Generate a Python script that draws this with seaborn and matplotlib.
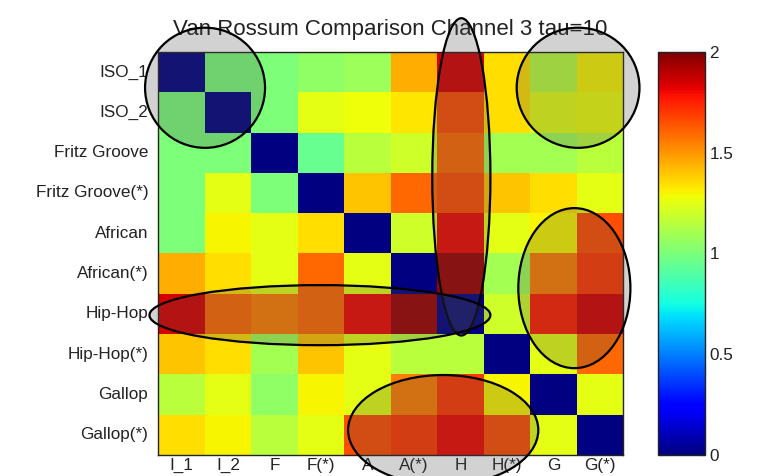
import numpy as np
import pandas as pd
import matplotlib
matplotlib.use("Agg")
import matplotlib.pyplot as plt
from matplotlib.patches import Ellipse
from matplotlib.ticker import FormatStrFormatter
import seaborn as sns

# =============================================
# data
rowLabels = ['ISO_1', 'ISO_2', 'Fritz Groove', 'Fritz Groove(*)', 'African',
             'African(*)', 'Hip-Hop', 'Hip-Hop(*)', 'Gallop', 'Gallop(*)']
colLabels = ['I_1', 'I_2', 'F', 'F(*)', 'A', 'A(*)', 'H', 'H(*)', 'G', 'G(*)']

row_iso1 = [0.00, 1.00, 1.00, 1.05, 1.08, 1.45, 1.85, 1.35, 1.15, 1.30]
row_iso2 = [1.00, 0.00, 1.00, 1.25, 1.28, 1.33, 1.65, 1.35, 1.25, 1.28]
row_fritz = [1.00, 1.00, 0.00, 0.95, 1.15, 1.20, 1.60, 1.10, 1.10, 1.15]
row_fritzS = [1.00, 1.25, 1.00, 0.00, 1.40, 1.60, 1.65, 1.40, 1.35, 1.25]
row_afr = [1.00, 1.30, 1.25, 1.35, 0.00, 1.20, 1.80, 1.25, 1.30, 1.65]
row_afrS = [1.45, 1.35, 1.25, 1.60, 1.25, 0.00, 1.95, 1.10, 1.55, 1.70]
row_hip = [1.85, 1.60, 1.55, 1.60, 1.80, 1.95, 0.00, 1.20, 1.75, 1.85]
row_hipS = [1.40, 1.35, 1.10, 1.40, 1.25, 1.15, 1.15, 0.00, 1.25, 1.60]
row_gal = [1.15, 1.25, 1.05, 1.30, 1.25, 1.55, 1.70, 1.30, 0.00, 1.25]
row_galS = [1.35, 1.30, 1.15, 1.25, 1.65, 1.70, 1.80, 1.65, 1.25, 0.00]

cbarTicks = [0, 0.5, 1, 1.5, 2]
titleText = 'Van Rossum Comparison Channel 3 tau=10'

# =============================================
# plotting parameters
tickFontSize = 12.3
titleFontSize = 16
textColor = '#222222'

sns.set_style("white")
plt.rcParams['font.family'] = ['Liberation Sans', 'DejaVu Sans']

df = pd.DataFrame([row_iso1, row_iso2, row_fritz, row_fritzS, row_afr,
                   row_afrS, row_hip, row_hipS, row_gal, row_galS],
                  index=rowLabels, columns=colLabels)

fig = plt.figure(figsize=(7.6, 4.76), dpi=100)
ax = fig.add_axes([0.208, 0.044, 0.612, 0.847])
cax = fig.add_axes([0.866, 0.044, 0.062, 0.847])

sns.heatmap(df, ax=ax, cbar_ax=cax, cmap='jet', vmin=0, vmax=2,
            cbar_kws={'ticks': cbarTicks})

# matlab-like frame and ticks
for side in ['left', 'right', 'top', 'bottom']:
    ax.spines[side].set_visible(True)
    ax.spines[side].set_color('#222222')
    ax.spines[side].set_linewidth(1.0)
ax.tick_params(direction='in', top=True, right=True, length=4, width=0.8,
               labelsize=tickFontSize, colors=textColor)
ax.tick_params(axis='y', pad=7)
ax.tick_params(axis='x', pad=2)
plt.setp(ax.get_yticklabels(), rotation=0)
plt.setp(ax.get_xticklabels(), rotation=0)
ax.set_title(titleText, fontsize=titleFontSize, color=textColor, pad=12)

cb = ax.collections[0].colorbar
cb.outline.set_visible(True)
cb.outline.set_linewidth(1.0)
cb.outline.set_edgecolor('#222222')
cb.ax.yaxis.set_major_formatter(FormatStrFormatter('%g'))
cax.tick_params(direction='in', left=True, right=True, length=4, width=0.8,
                labelsize=tickFontSize, colors=textColor, pad=3)

# highlighted regions (data coords of the heatmap)
ellipses = [((1.01, 0.89), 2.58, 2.98),
            ((6.52, 3.10), 1.25, 7.87),
            ((9.03, 0.89), 2.64, 2.98),
            ((8.95, 5.86), 2.41, 3.97),
            ((3.48, 6.53), 7.33, 1.49),
            ((6.13, 9.38), 4.09, 2.73)]
for center, w, h in ellipses:
    ax.add_patch(Ellipse(center, w, h, facecolor=(0.3, 0.3, 0.3, 0.25),
                         edgecolor='black', linewidth=1.6, clip_on=False,
                         zorder=5))

fig.savefig('out.png', dpi=100)
plt.close()
